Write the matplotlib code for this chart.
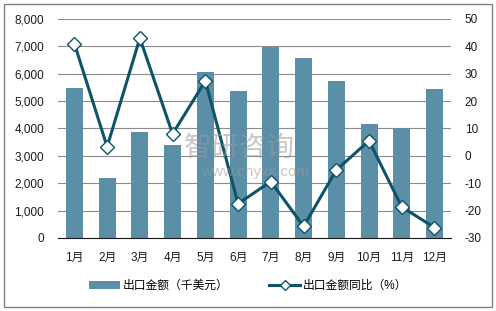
import matplotlib.pyplot as plt
import numpy as np
from matplotlib.lines import Line2D
from matplotlib.patches import Patch

plt.rcParams['font.family'] = ['Liberation Sans', 'Noto Sans CJK SC', 'DejaVu Sans']
plt.rcParams['axes.unicode_minus'] = False

# data
months = ['1月', '2月', '3月', '4月', '5月', '6月', '7月', '8月', '9月', '10月', '11月', '12月']
export_value = [5480, 2200, 3880, 3400, 6060, 5360, 6970, 6570, 5730, 4160, 4010, 5440]
export_yoy = [41.0, 3.3, 43.0, 8.0, 27.4, -17.5, -9.4, -25.8, -5.2, 5.5, -18.7, -26.2]

BAR_COLOR = '#5b8fa8'
LINE_COLOR = '#0d5469'
GRID_COLOR = '#8c8c8c'

fig = plt.figure(figsize=(4.96, 3.11), dpi=100)
ax = fig.add_axes([0.117, 0.235, 0.792, 0.704])
ax2 = ax.twinx()

x = np.arange(len(months))
ax.bar(x, export_value, width=0.52, color=BAR_COLOR, zorder=2)
ax.set_ylim(0, 8000)
ax.set_yticks(np.arange(0, 8001, 1000))
ax.set_yticklabels([f'{v:,}' for v in range(0, 8001, 1000)])
ax.set_xlim(-0.5, len(months) - 0.5)
ax.set_xticks(x)
ax.set_xticklabels(months)
ax.grid(axis='y', color=GRID_COLOR, linewidth=0.8, zorder=0)
ax.set_axisbelow(True)

ax2.plot(x, export_yoy, color=LINE_COLOR, linewidth=2.2, marker='D', markersize=7.5,
         markerfacecolor='white', markeredgecolor=LINE_COLOR, markeredgewidth=1.0, zorder=5)
ax2.set_ylim(-30, 50)
ax2.set_yticks(np.arange(-30, 51, 10))

for a in (ax, ax2):
    for s in a.spines.values():
        s.set_visible(False)
    a.tick_params(length=0, labelsize=8.5, colors='#1a1a1a')
ax.spines['bottom'].set_visible(True)
ax.spines['bottom'].set_color('#1a1a1a')
ax.tick_params(axis='y', pad=10)
ax.tick_params(axis='x', pad=10)
ax2.tick_params(axis='y', pad=10)

# watermark
fig.text(0.37, 0.50, '智研咨询', fontsize=20, color='#9a9a9a', alpha=0.55, zorder=10,
         family=['Noto Sans CJK SC'])
fig.text(0.405, 0.435, 'www.chyxx.com', fontsize=11, color='#9a9a9a', alpha=0.55, zorder=10)

handles = [Patch(facecolor=BAR_COLOR, label='出口金额（千美元）'),
           Line2D([0], [0], color=LINE_COLOR, linewidth=2.2, marker='D', markersize=5,
                  markerfacecolor='white', markeredgecolor=LINE_COLOR, label='出口金额同比（%）')]
fig.legend(handles=handles, loc='center', bbox_to_anchor=(0.5, 0.08), ncol=2, frameon=False,
           fontsize=8.5, handlelength=2.6, handletextpad=0.2, columnspacing=3.5)

# outer frame
fig.patches.append(plt.Rectangle((0.008, 0.012), 0.984, 0.976, transform=fig.transFigure,
                                 fill=False, edgecolor='#808080', linewidth=1))

fig.savefig('out.png', dpi=100)
